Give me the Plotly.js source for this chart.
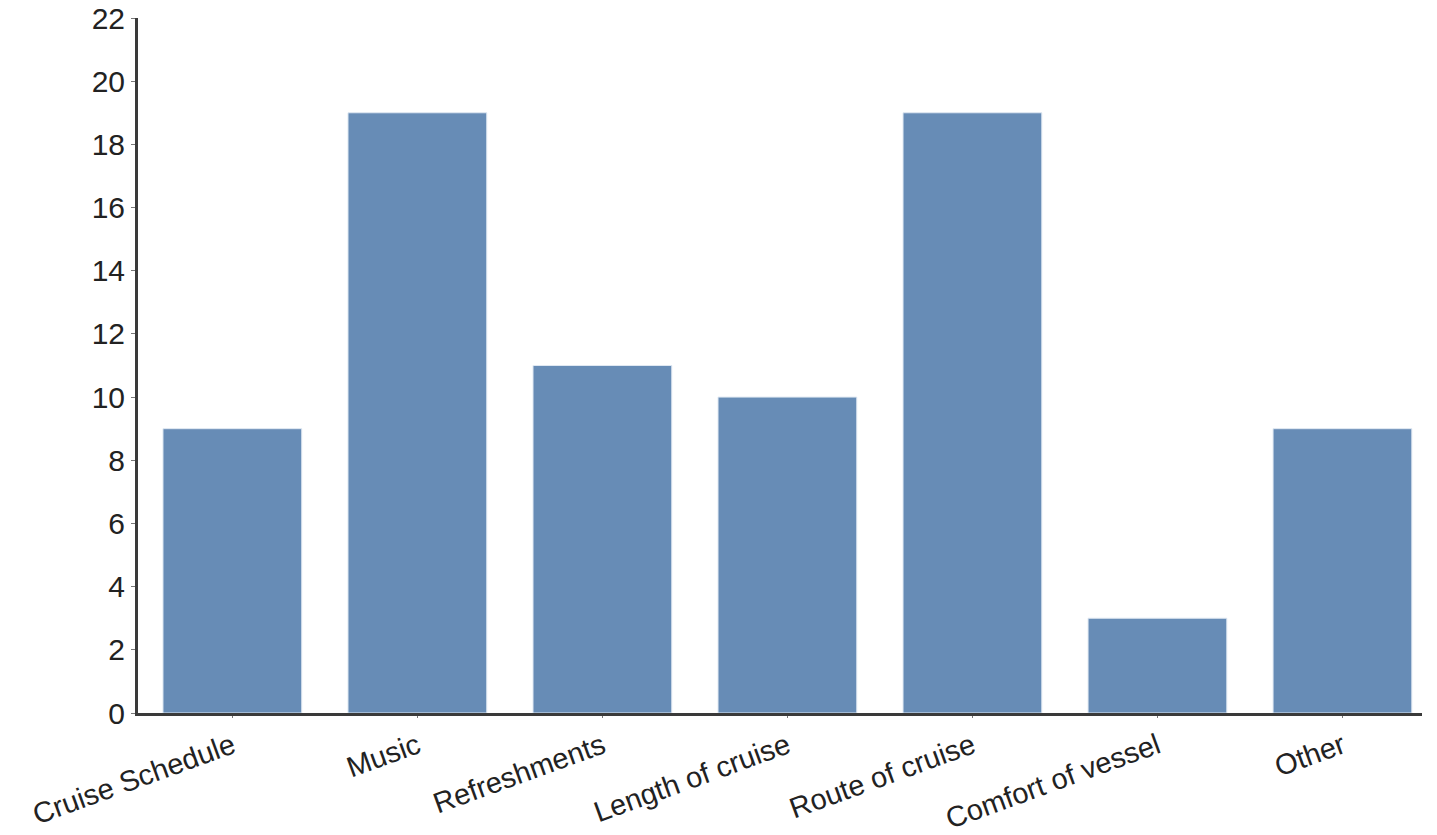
<!DOCTYPE html>
<html>
<head>
<meta charset="utf-8">
<script src="https://cdn.plot.ly/plotly-3.0.1.min.js"></script>
<style>html,body{margin:0;padding:0;background:#fff;}#chart{width:1437px;height:835px;}</style>
</head>
<body>
<div id="chart"></div>
<script>
const categories = ["Cruise Schedule", "Music", "Refreshments", "Length of cruise", "Route of cruise", "Comfort of vessel", "Other"];
const values = [9, 19, 11, 10, 19, 3, 9];
const yTicks = [0, 2, 4, 6, 8, 10, 12, 14, 16, 18, 20, 22];

Plotly.newPlot("chart", [{
  type: "bar",
  x: categories,
  y: values,
  marker: {color: "#678cb6", line: {color: "#dfe8f2", width: 1}},
  hoverinfo: "x+y"
}], {
  width: 1437, height: 835,
  margin: {l: 138, r: 15, t: 18, b: 122},
  paper_bgcolor: "#fff", plot_bgcolor: "#fff",
  bargap: 0.25,
  showlegend: false,
  font: {family: "Liberation Sans, Arial, sans-serif", size: 30, color: "#222"},
  xaxis: {
    type: "category",
    range: [-0.51, 6.43],
    showline: true, linecolor: "#3a3a3a", linewidth: 3,
    ticks: "outside", ticklen: 2, tickcolor: "#777", tickwidth: 1,
    tickangle: -20,
    showgrid: false, zeroline: false,
    tickfont: {size: 29, color: "#222"}
  },
  yaxis: {
    range: [0, 22],
    tickvals: yTicks,
    ticktext: yTicks.map(String),
    showline: true, linecolor: "#3a3a3a", linewidth: 3,
    ticks: "outside", ticklen: 4, tickcolor: "#777", tickwidth: 1,
    showgrid: false, zeroline: false,
    tickfont: {size: 30, color: "#222"}
  }
}, {displayModeBar: false});
</script>
</body>
</html>
